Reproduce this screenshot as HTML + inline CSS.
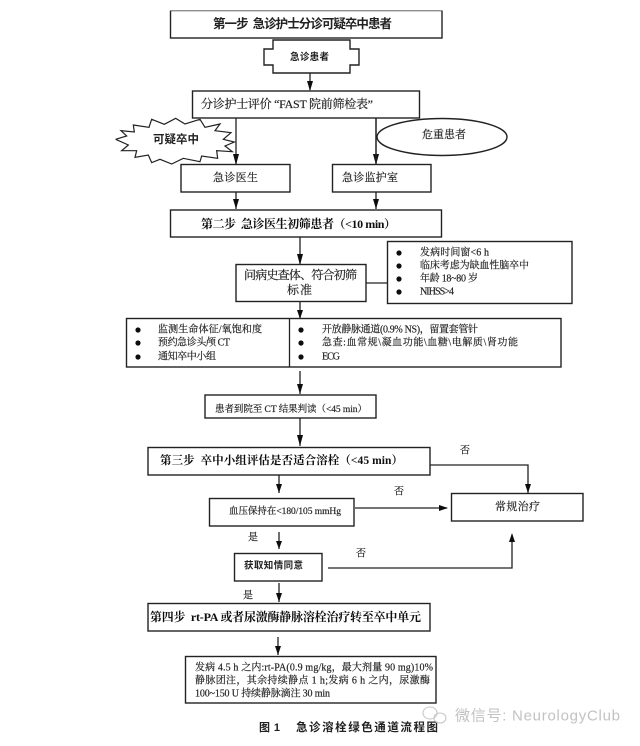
<!DOCTYPE html>
<html lang="zh">
<head>
<meta charset="utf-8">
<style>
html,body{margin:0;padding:0;background:#fff;width:640px;height:746px;overflow:hidden}
svg{display:block}
text{font-family:"Liberation Serif","Noto Serif CJK SC",serif;fill:#222;dominant-baseline:central;white-space:pre;stroke:#222;stroke-width:.18}
.b{font-weight:700;fill:#111;stroke:none}
.k{font-family:"Liberation Sans","Noto Sans CJK SC",sans-serif;font-weight:700;fill:#222;stroke:none}
.box{fill:#fff;stroke:#222;stroke-width:1.4}
.ln{fill:none;stroke:#222;stroke-width:1.3}
.ah{fill:#111}
</style>
</head>
<body>
<svg width="640" height="746" viewBox="0 0 640 746" xmlns="http://www.w3.org/2000/svg">
<defs><filter id="s" x="0" y="0" width="100%" height="100%"><feGaussianBlur stdDeviation="0.35"/></filter></defs>
<rect width="640" height="746" fill="#fff"/>
<g filter="url(#s)">
<!-- connectors -->
<path class="ln" d="M310 73V90M376 118V165M236 192V209M376 192V209M300 237V264M300 302V318M300 371V394M300 418V446M366 283H387M430 465H528V493M279 475V493M355 508H447M279 532V549M328 568H512V535M279 583V602M278 637V655"/>
<g class="ah">
<path d="M307 81H313L310 91Z"/><path d="M373 154H379L376 165Z"/>
<path d="M233 199H239L236 209Z"/><path d="M373 199H379L376 209Z"/><path d="M297 254H303L300 265Z"/>
<path d="M297 310H303L300 319Z"/><path d="M297 384H303L300 394Z"/><path d="M297 435H303L300 446Z"/>
<path d="M525 484H531L528 493Z"/><path d="M276 484H282L279 493Z"/><path d="M439 505V511L448 508Z"/>
<path d="M276 541H282L279 549Z"/><path d="M509 542H515L512 533Z"/><path d="M276 593H282L279 602Z"/><path d="M275 646H281L278 655Z"/>
</g>
<!-- boxes -->
<rect class="box" x="170.500" y="10.500" width="271.500" height="27.500"/>
<path class="box" d="M273 40H350V49H359V65H350V73H273V65H264V49H273Z"/>
<rect class="box" x="192.500" y="91" width="227" height="27"/>
<ellipse class="box" cx="442" cy="137" rx="65" ry="18.500"/>
<path class="ln" d="M376 118V165"/>
<g transform="translate(105 110) scale(.3333)"><path d="M32 88L65 78L48 62L88 66L85 45L132 52L140 28L178 43L212 25L240 42L285 28L300 52L345 42L330 62L378 68L355 88L388 96L360 108L382 125L335 122L338 145L290 138L285 155L235 145L200 162L165 148L140 158L130 135L90 142L95 122L50 122L70 105Z" fill="#fff" stroke="#222" stroke-width="3.600"/></g>
<path class="ln" d="M236 118V165"/><path class="ah" d="M233 154H239L236 165Z"/>
<rect class="box" x="181" y="164.500" width="109" height="27.500"/>
<rect class="box" x="332.500" y="164.500" width="98.500" height="27.500"/>
<rect class="box" x="170.500" y="210" width="271" height="27"/>
<rect class="box" x="236" y="264.500" width="130" height="37"/>
<rect class="box" x="387.500" y="241.500" width="184.500" height="62"/>
<rect class="box" x="126.500" y="318.500" width="434.500" height="48.500"/>
<path class="ln" d="M289.500 319V367"/>
<rect class="box" x="205" y="395" width="171" height="23"/>
<rect class="box" x="148" y="447.500" width="282" height="27.500"/>
<rect class="box" x="209.500" y="498.500" width="144.500" height="27.500"/>
<rect class="box" x="451.500" y="493.500" width="131.500" height="27.500"/>
<rect class="box" x="234.500" y="553.500" width="87.500" height="27.500"/>
<rect class="box" x="148" y="603.500" width="282" height="27.500"/>
<rect class="box" x="185.500" y="656.500" width="250.500" height="46.500"/>
<!-- bullets -->
<g fill="#111">
<circle cx="399" cy="253" r="2.600"/><circle cx="399" cy="266" r="2.600"/><circle cx="399" cy="279" r="2.600"/><circle cx="399" cy="292" r="2.600"/>
<circle cx="138" cy="330" r="2.600"/><circle cx="138" cy="343" r="2.600"/><circle cx="138" cy="357" r="2.600"/>
<circle cx="301" cy="330" r="2.600"/><circle cx="301" cy="343" r="2.600"/><circle cx="301" cy="357" r="2.600"/>
</g>
<!-- labels -->
<text class="k" x="213" y="24" font-size="12.500" textLength="179">第一步  急诊护士分诊可疑卒中患者</text>
<text class="k" x="290" y="57.500" font-size="9.500" textLength="39">急诊患者</text>
<text x="201" y="104" font-size="12" textLength="172">分诊护士评价 “FAST 院前筛检表”</text>
<text class="k" x="153" y="140" font-size="11.500" textLength="46">可疑卒中</text>
<text x="422" y="135" font-size="11" textLength="44">危重患者</text>
<text x="213" y="178" font-size="11" textLength="45">急诊医生</text>
<text x="342" y="178" font-size="11" textLength="56">急诊监护室</text>
<text class="b" x="201" y="224" font-size="12" textLength="195">第二步  急诊医生初筛患者（&lt;10 min）</text>
<text x="244" y="275" font-size="12" textLength="113">问病史查体、符合初筛</text>
<text x="287" y="290" font-size="12" textLength="25">标准</text>
<g font-size="10">
<text x="420" y="253" textLength="69">发病时间窗&lt;6 h</text>
<text x="420" y="266" textLength="109">临床考虑为缺血性脑卒中</text>
<text x="420" y="279" textLength="58">年龄 18~80 岁</text>
<text x="420" y="292" textLength="34">NIHSS&gt;4</text>
<text x="158" y="330" textLength="104">监测生命体征/氧饱和度</text>
<text x="158" y="343" textLength="72">预约急诊头颅 CT</text>
<text x="158" y="357" textLength="58">通知卒中小组</text>
<text x="322" y="330" textLength="156">开放静脉通道(0.9% NS)，留置套管针</text>
<text x="322" y="343" textLength="196">急查:血常规\凝血功能\血糖\电解质\肾功能</text>
<text x="322" y="357" textLength="18">ECG</text>
</g>
<text x="215" y="410" font-size="9.500" textLength="152">患者到院至 CT 结果判读（&lt;45 min）</text>
<text class="b" x="160" y="461" font-size="11.500" textLength="243">第三步  卒中小组评估是否适合溶栓（&lt;45 min）</text>
<text x="460" y="451" font-size="10" textLength="10">否</text>
<text x="394" y="492" font-size="10" textLength="10">否</text>
<text x="229" y="512" font-size="9.500" textLength="112">血压保持在&lt;180/105 mmHg</text>
<text x="495" y="507" font-size="11" textLength="45">常规治疗</text>
<text x="248" y="538" font-size="10" textLength="10">是</text>
<text x="356" y="554" font-size="10" textLength="10">否</text>
<text class="k" x="244" y="566" font-size="9.500" textLength="59">获取知情同意</text>
<text x="243" y="596" font-size="10" textLength="10">是</text>
<text class="b" x="150" y="617" font-size="12" textLength="271">第四步  rt-PA 或者尿激酶静脉溶栓治疗转至卒中单元</text>
<g font-size="10">
<text x="195" y="668" textLength="238">发病 4.5 h 之内:rt-PA(0.9 mg/kg，最大剂量 90 mg)10%</text>
<text x="195" y="681" textLength="235">静脉团注，其余持续静点 1 h;发病 6 h 之内，尿激酶</text>
<text x="195" y="694" textLength="135">100~150 U 持续静脉滴注 30 min</text>
</g>
<text class="k" x="259" y="728" font-size="11" textLength="21">图 1</text>
<text class="k" x="296" y="728" font-size="11.500" textLength="142">急诊溶栓绿色通道流程图</text>
<!-- watermark -->
<g fill="none" stroke="#c8c8c8" stroke-width="1.100"><ellipse cx="430" cy="713" rx="7" ry="6"/><ellipse cx="440" cy="718" rx="6" ry="5"/></g>
<text x="455" y="716" font-size="15" textLength="165" style="font-family:'Liberation Sans','Noto Sans CJK SC',sans-serif;fill:#c2c2c2;stroke:none">微信号: NeurologyClub</text>
</g>
</svg>
</body>
</html>
